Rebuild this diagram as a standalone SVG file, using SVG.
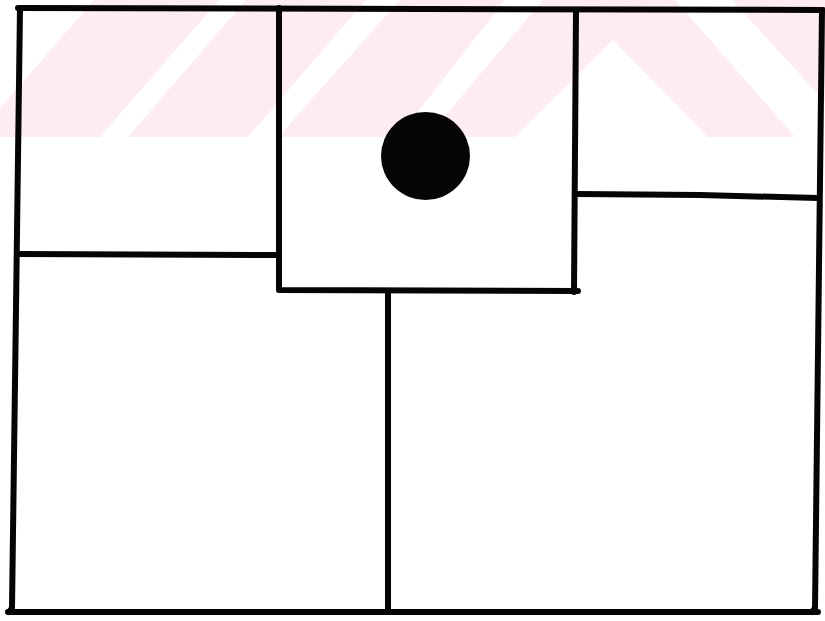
<svg xmlns="http://www.w3.org/2000/svg" width="825" height="621" viewBox="0 0 825 621">
<style>
.wm{fill:#fdedf0;stroke:none}
.wall{fill:none;stroke:#060404;stroke-width:6;stroke-linecap:round;stroke-linejoin:round}
</style>
<rect width="825" height="621" fill="#ffffff"/>
<g id="watermark">
<polygon class="wm" points="-25,137 100,137 219,0 94,0"/>
<polygon class="wm" points="128,137 248,137 366,0 246,0"/>
<polygon class="wm" points="278,137 398,137 505,0 400,0"/>
<polygon class="wm" points="427,137 515,137 613,40 708,137 795,137 675,0 543,0"/>
<polygon class="wm" points="732,0 825,0 825,102"/>
</g>
<g id="walls">
<path class="wall" d="M18,8 L823,10"/>
<path class="wall" d="M20,8 L12,608 L9,612"/>
<path class="wall" d="M8,612 L818,612"/>
<path class="wall" d="M822,10 L815,608 L812,612"/>
<path class="wall" d="M18,254 L279,255"/>
<path class="wall" d="M279,8 L279,290 L578,291"/>
<path class="wall" d="M576,10 L574,292"/>
<path class="wall" d="M577,194 L700,195 L818,198"/>
<path class="wall" d="M388,291 L388,612"/>
</g>
<g id="dot">
<ellipse cx="425.5" cy="156" rx="44.5" ry="44" fill="#060404"/>
</g>
</svg>
